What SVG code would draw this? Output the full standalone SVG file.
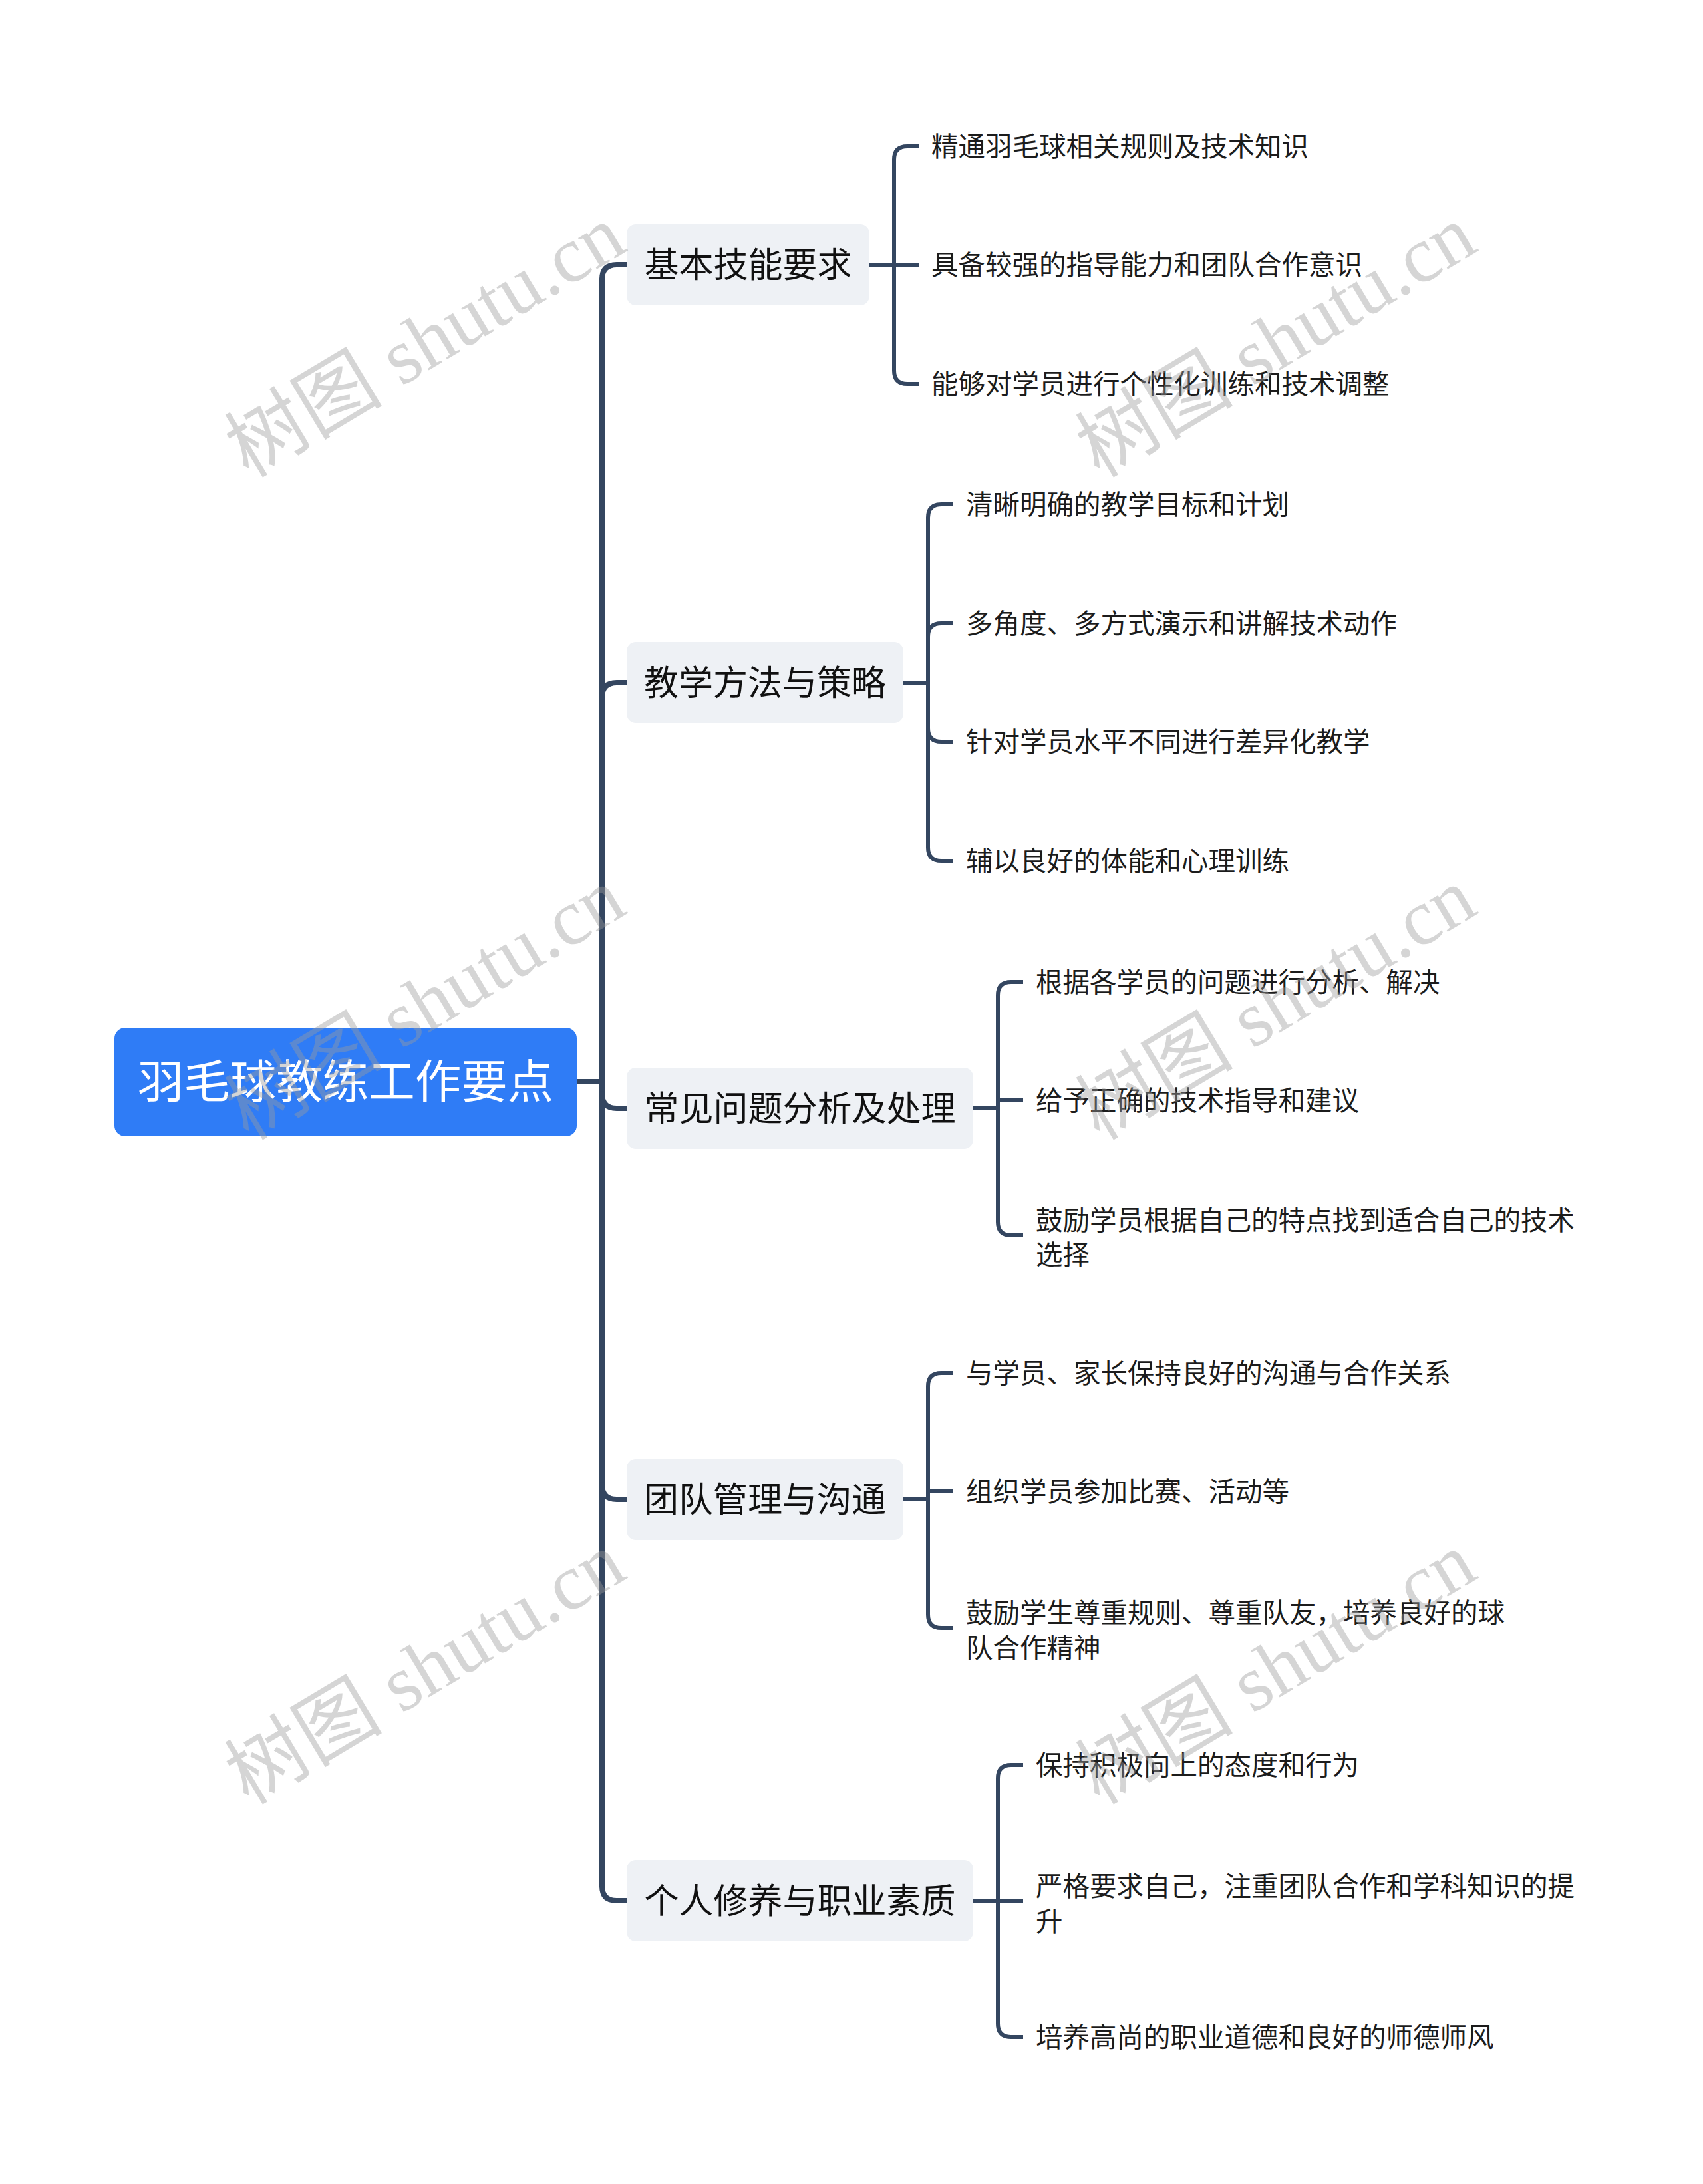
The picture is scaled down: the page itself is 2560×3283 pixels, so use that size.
<svg xmlns="http://www.w3.org/2000/svg" width="2560" height="3283" viewBox="0 0 2560 3283">
<style>
.bg{fill:#ffffff}
.root rect{fill:#2f7cf6}
.root text{fill:#ffffff;font-size:69.5px}
.l1 rect{fill:#eef1f5}
.l1 text{fill:#111111;font-size:52px}
.l2 text{fill:#1c1c1c;font-size:40.5px}
text{font-family:"Noto Sans CJK SC","Noto Sans",sans-serif}
.c1{fill:none;stroke:#344660;stroke-width:8;stroke-linecap:round}
.c2{fill:none;stroke:#344660;stroke-width:6;stroke-linecap:butt}
.wm{fill:#9a9a9a;fill-opacity:0.42;font-family:"Liberation Serif","Noto Sans CJK SC",serif;font-size:119px}
</style>
<rect class="bg" x="0" y="0" width="2560" height="3283"/>
<g id="connectors">
  <path class="c1" d="M867,1626 L905,1626"/>
  <path class="c1" d="M905,420 L905,2835"/>
  <path class="c1" d="M905,420 Q905,398 927,398 L942,398"/>
  <path class="c1" d="M905,1048 Q905,1026 927,1026 L942,1026"/>
  <path class="c1" d="M905,1644 Q905,1666 927,1666 L942,1666"/>
  <path class="c1" d="M905,2232 Q905,2254 927,2254 L942,2254"/>
  <path class="c1" d="M905,2835 Q905,2857 927,2857 L942,2857"/>
  <path class="c2" d="M1307,398 L1344,398"/>
  <path class="c2" d="M1344,240 L1344,557"/>
  <path class="c2" d="M1344,240 Q1344,220 1364,220 L1382,220"/>
  <path class="c2" d="M1344,398 L1382,398"/>
  <path class="c2" d="M1344,557 Q1344,577 1364,577 L1382,577"/>
  <path class="c2" d="M1358,1026 L1395,1026"/>
  <path class="c2" d="M1395,778 L1395,1274"/>
  <path class="c2" d="M1395,778 Q1395,758 1415,758 L1433,758"/>
  <path class="c2" d="M1395,957 Q1395,937 1415,937 L1433,937"/>
  <path class="c2" d="M1395,1095 Q1395,1115 1415,1115 L1433,1115"/>
  <path class="c2" d="M1395,1274 Q1395,1294 1415,1294 L1433,1294"/>
  <path class="c2" d="M1463,1666 L1500,1666"/>
  <path class="c2" d="M1500,1496 L1500,1837"/>
  <path class="c2" d="M1500,1496 Q1500,1476 1520,1476 L1538,1476"/>
  <path class="c2" d="M1500,1654 L1538,1654"/>
  <path class="c2" d="M1500,1837 Q1500,1857 1520,1857 L1538,1857"/>
  <path class="c2" d="M1358,2254 L1395,2254"/>
  <path class="c2" d="M1395,2084 L1395,2427"/>
  <path class="c2" d="M1395,2084 Q1395,2064 1415,2064 L1433,2064"/>
  <path class="c2" d="M1395,2242 L1433,2242"/>
  <path class="c2" d="M1395,2427 Q1395,2447 1415,2447 L1433,2447"/>
  <path class="c2" d="M1463,2857 L1500,2857"/>
  <path class="c2" d="M1500,2673 L1500,3042"/>
  <path class="c2" d="M1500,2673 Q1500,2653 1520,2653 L1538,2653"/>
  <path class="c2" d="M1500,2857 L1538,2857"/>
  <path class="c2" d="M1500,3042 Q1500,3062 1520,3062 L1538,3062"/>
</g>
<g id="root" class="root">
  <rect x="172" y="1545" width="695" height="163" rx="16"/>
  <text x="519.5" y="1651" text-anchor="middle">羽毛球教练工作要点</text>
</g>
<g id="n1" class="l1">
  <rect x="942" y="337" width="365" height="122" rx="14"/>
  <text x="1124.5" y="417" text-anchor="middle">基本技能要求</text>
</g>
<g id="n2" class="l1">
  <rect x="942" y="965" width="416" height="122" rx="14"/>
  <text x="1150" y="1045" text-anchor="middle">教学方法与策略</text>
</g>
<g id="n3" class="l1">
  <rect x="942" y="1605" width="521" height="122" rx="14"/>
  <text x="1202.5" y="1685" text-anchor="middle">常见问题分析及处理</text>
</g>
<g id="n4" class="l1">
  <rect x="942" y="2193" width="416" height="122" rx="14"/>
  <text x="1150" y="2273" text-anchor="middle">团队管理与沟通</text>
</g>
<g id="n5" class="l1">
  <rect x="942" y="2796" width="521" height="122" rx="14"/>
  <text x="1202.5" y="2876" text-anchor="middle">个人修养与职业素质</text>
</g>
<g id="n1c1" class="l2"><text x="1400" y="234.5">精通羽毛球相关规则及技术知识</text></g>
<g id="n1c2" class="l2"><text x="1400" y="412.5">具备较强的指导能力和团队合作意识</text></g>
<g id="n1c3" class="l2"><text x="1400" y="591.5">能够对学员进行个性化训练和技术调整</text></g>
<g id="n2c1" class="l2"><text x="1452" y="772.5">清晰明确的教学目标和计划</text></g>
<g id="n2c2" class="l2"><text x="1452" y="951.5">多角度、多方式演示和讲解技术动作</text></g>
<g id="n2c3" class="l2"><text x="1452" y="1129.5">针对学员水平不同进行差异化教学</text></g>
<g id="n2c4" class="l2"><text x="1452" y="1308.5">辅以良好的体能和心理训练</text></g>
<g id="n3c1" class="l2"><text x="1557" y="1490.5">根据各学员的问题进行分析、解决</text></g>
<g id="n3c2" class="l2"><text x="1557" y="1668.5">给予正确的技术指导和建议</text></g>
<g id="n3c3" class="l2"><text x="1557" y="1848.5">鼓励学员根据自己的特点找到适合自己的技术</text><text x="1557" y="1900.5">选择</text></g>
<g id="n4c1" class="l2"><text x="1452" y="2078.5">与学员、家长保持良好的沟通与合作关系</text></g>
<g id="n4c2" class="l2"><text x="1452" y="2256.5">组织学员参加比赛、活动等</text></g>
<g id="n4c3" class="l2"><text x="1452" y="2438.5">鼓励学生尊重规则、尊重队友，培养良好的球</text><text x="1452" y="2491.5">队合作精神</text></g>
<g id="n5c1" class="l2"><text x="1557" y="2667.5">保持积极向上的态度和行为</text></g>
<g id="n5c2" class="l2"><text x="1557" y="2849.5">严格要求自己，注重团队合作和学科知识的提</text><text x="1557" y="2902.5">升</text></g>
<g id="n5c3" class="l2"><text x="1557" y="3076.5">培养高尚的职业道德和良好的师德师风</text></g>
<g id="watermarks">
  <text class="wm" text-anchor="middle" transform="translate(640,515) rotate(-31)" y="38">树图 shutu.cn</text>
  <text class="wm" text-anchor="middle" transform="translate(1919,515) rotate(-31)" y="38">树图 shutu.cn</text>
  <text class="wm" text-anchor="middle" transform="translate(640,1511) rotate(-31)" y="38">树图 shutu.cn</text>
  <text class="wm" text-anchor="middle" transform="translate(1919,1511) rotate(-31)" y="38">树图 shutu.cn</text>
  <text class="wm" text-anchor="middle" transform="translate(640,2510) rotate(-31)" y="38">树图 shutu.cn</text>
  <text class="wm" text-anchor="middle" transform="translate(1919,2510) rotate(-31)" y="38">树图 shutu.cn</text>
</g>
</svg>
